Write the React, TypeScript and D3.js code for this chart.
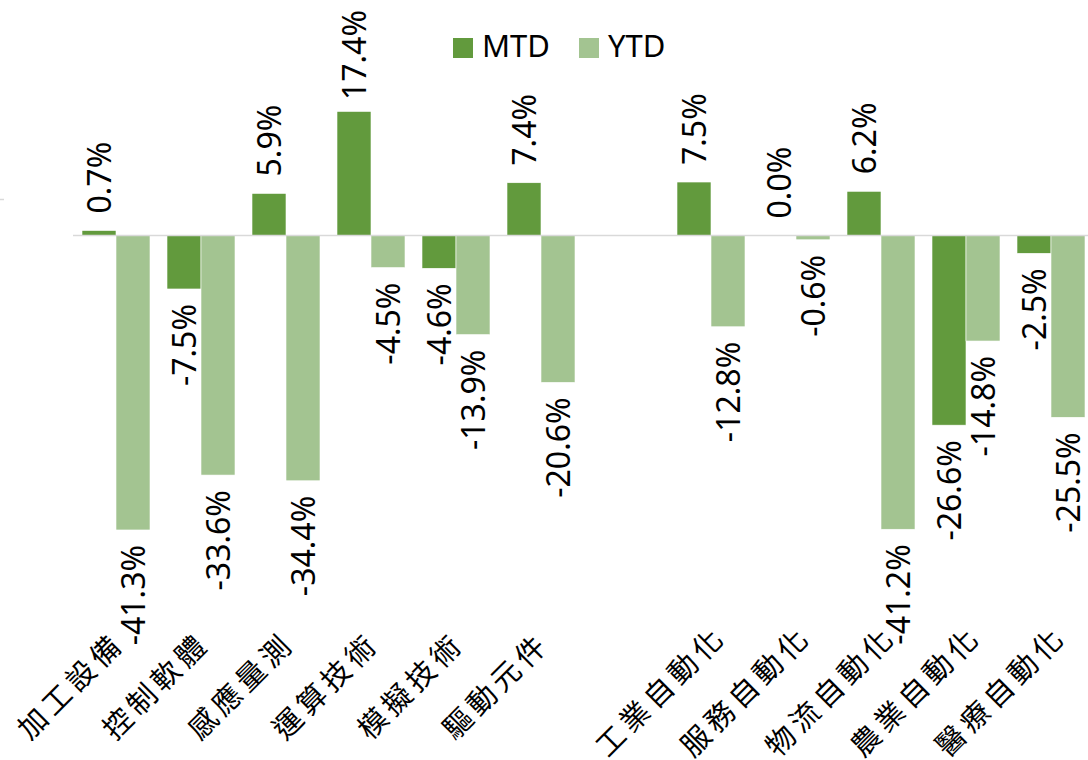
import React, { useEffect, useRef } from "react";
import * as d3 from "d3";

const categories = ["加工設備", "控制軟體", "感應量測", "運算技術", "模擬技術", "驅動元件", "", "工業自動化", "服務自動化", "物流自動化", "農業自動化", "醫療自動化"];
const mtd: (number | null)[] = [0.7, -7.5, 5.9, 17.4, -4.6, 7.4, null, 7.5, 0.0, 6.2, -26.6, -2.5];
const ytd: (number | null)[] = [-41.3, -33.6, -34.4, -4.5, -13.9, -20.6, null, -12.8, -0.6, -41.2, -14.8, -25.5];
const seriesNames = ["MTD", "YTD"];
const seriesColors = ["#629a3d", "#a3c491"];

const W = 1088;
const H = 760;
const ZERO_Y = 235.5;
const PX_PER = 7.13;

export default function App() {
  const ref = useRef<SVGSVGElement | null>(null);

  useEffect(() => {
    const svg = d3.select(ref.current);
    svg.selectAll("*").remove();

    const x = d3
      .scaleBand<number>()
      .domain(categories.map((_, i) => i))
      .range([73.5, 73.5 + 85 * categories.length])
      .paddingInner(0)
      .paddingOuter(0);
    const xs = d3
      .scaleBand<string>()
      .domain(seriesNames)
      .range([0, x.bandwidth()])
      .paddingInner(0)
      .paddingOuter(0.25);
    const y = d3
      .scaleLinear()
      .domain([-45, 20])
      .range([ZERO_Y + 45 * PX_PER, ZERO_Y - 20 * PX_PER]);

    const data = [mtd, ytd];

    // stray axis fragment at left
    svg
      .append("line")
      .attr("x1", 0)
      .attr("x2", 4)
      .attr("y1", 199.5)
      .attr("y2", 199.5)
      .attr("stroke", "#d9d9d9")
      .attr("stroke-width", 1.5);

    // bars
    data.forEach((vals, s) => {
      const g = svg.append("g");
      vals.forEach((v, i) => {
        if (v === null) return;
        const bx = (x(i) as number) + (xs(seriesNames[s]) as number);
        const y0 = y(0);
        const y1 = y(v);
        g.append("rect")
          .attr("x", bx)
          .attr("y", Math.min(y0, y1))
          .attr("width", xs.bandwidth())
          .attr("height", Math.abs(y1 - y0))
          .attr("fill", seriesColors[s])
          .attr("stroke", "#ffffff")
          .attr("stroke-width", 0.6);
      });
    });

    // zero line
    svg
      .append("line")
      .attr("x1", 73)
      .attr("x2", W)
      .attr("y1", y(0))
      .attr("y2", y(0))
      .attr("stroke", "#d9d9d9")
      .attr("stroke-width", 1.5);

    // value labels
    data.forEach((vals, s) => {
      vals.forEach((v, i) => {
        if (v === null) return;
        const cx = (x(i) as number) + (xs(seriesNames[s]) as number) + xs.bandwidth() / 2;
        const label = v.toFixed(1) + "%";
        const t = svg
          .append("text")
          .attr("font-family", "'Noto Sans', sans-serif")
          .attr("font-size", 32)
          .attr("fill", "#000")
          .attr("dy", "0.36em")
          .text(label);
        if (v >= 0) {
          const len = (t.node() as SVGTextElement).getComputedTextLength();
          let sy = y(v) - 17;
          if (sy - len < 10) sy = 10 + len;
          t.attr("text-anchor", "start").attr("transform", `translate(${cx},${sy}) rotate(-90)`);
        } else {
          const ey = y(v) + 15;
          t.attr("text-anchor", "end").attr("transform", `translate(${cx},${ey}) rotate(-90)`);
        }
      });
    });

    // category labels
    categories.forEach((c, i) => {
      if (!c) return;
      const cx = (x(i) as number) + x.bandwidth() / 2;
      const shift = Math.max(0, c.length - 4) * 7;
      svg
        .append("text")
        .attr("font-family", "'Noto Sans CJK TC', 'Noto Sans CJK SC', sans-serif")
        .attr("font-size", 29)
        .attr("letter-spacing", 5)
        .attr("fill", "#000")
        .attr("text-anchor", "end")
        .attr("dominant-baseline", "central")
        .attr("transform", `translate(${cx + 1 + shift},${636 - shift}) rotate(-45)`)
        .text(c);
    });

    // legend
    const lx = [453, 579];
    seriesNames.forEach((n, s) => {
      svg
        .append("rect")
        .attr("x", lx[s])
        .attr("y", 38)
        .attr("width", 20)
        .attr("height", 20)
        .attr("fill", seriesColors[s]);
      svg
        .append("text")
        .attr("x", lx[s] + 29)
        .attr("y", 57)
        .attr("font-family", "'Noto Sans', sans-serif")
        .attr("font-size", 31)
        .attr("fill", "#000")
        .text(n);
    });
  }, []);

  return (
    <svg
      ref={ref}
      width={W}
      height={H}
      style={{ position: "absolute", left: 0, top: 0, background: "#fff" }}
    />
  );
}
